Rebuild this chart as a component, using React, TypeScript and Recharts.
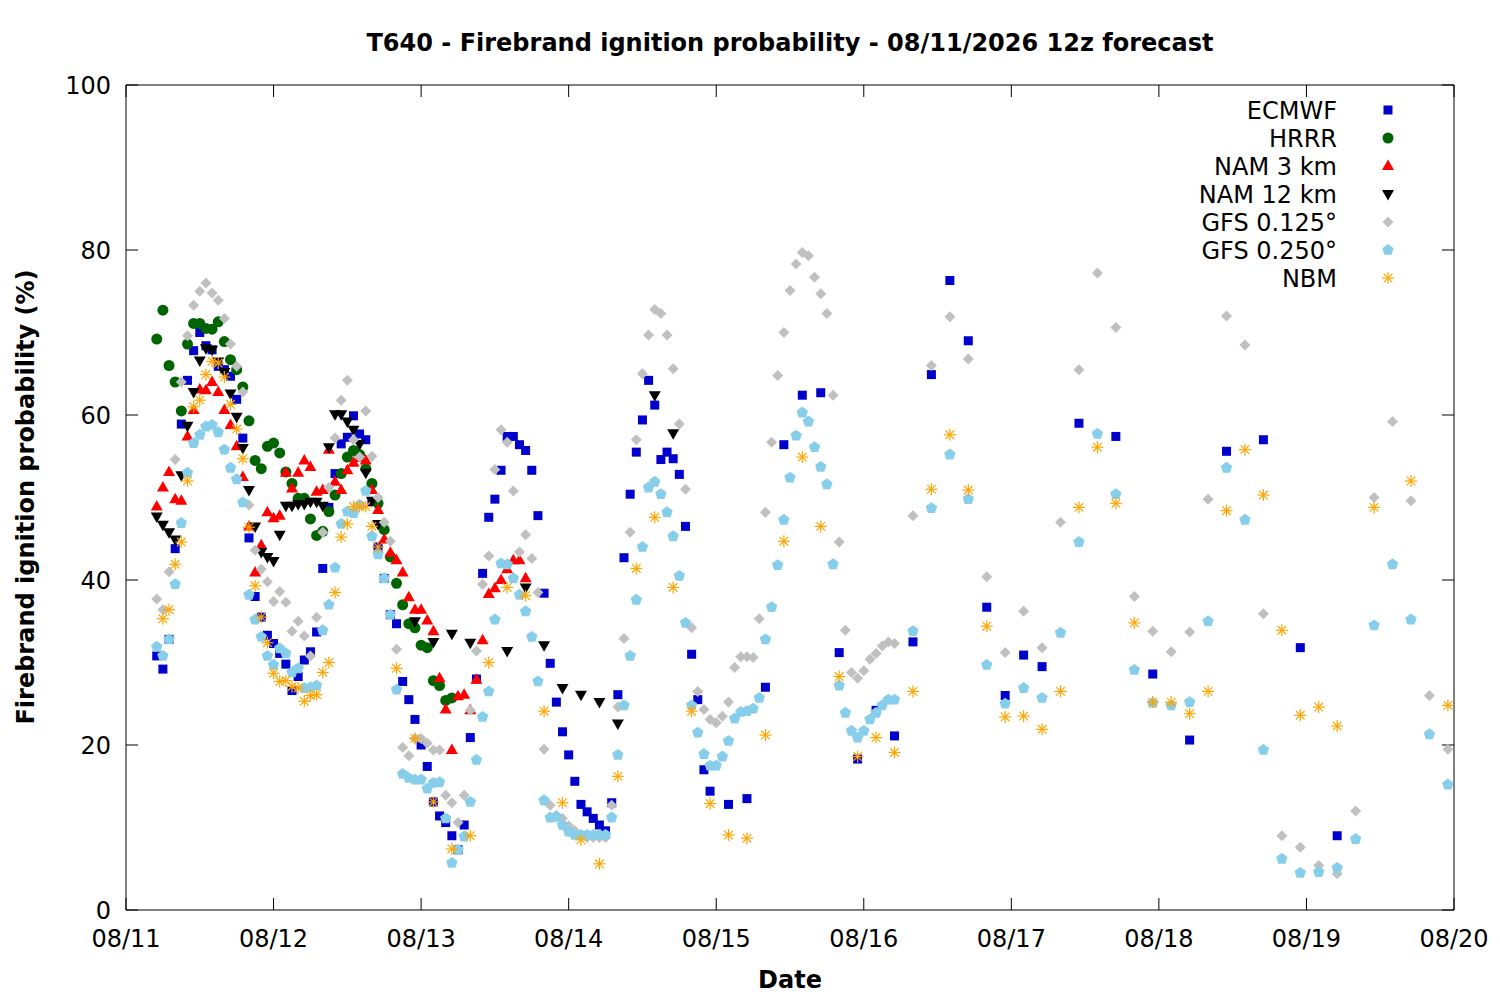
import React from "react";
import { ScatterChart, Scatter, XAxis, YAxis } from "recharts";

// time axis: hours since 08/11 00 local (12z run = hour 5)
const dayTicks = [0, 24, 48, 72, 96, 120, 144, 168, 192, 216];
const dayLabels = ["08/11", "08/12", "08/13", "08/14", "08/15", "08/16", "08/17", "08/18", "08/19", "08/20"];
const yTicks = [0, 20, 40, 60, 80, 100];

type Seg = { start: number; step: number; values: number[] };

// ECMWF: hourly h5-h95, 3-hourly h98-h149, 6-hourly h155-h197
const ecmwfHourly = [
  30.8, 29.2, 32.8, 43.8, 58.9, 64.2, 67.8, 70.0, 68.4, 67.9,
  65.9, 65.5, 64.7, 61.9, 57.2, 45.1, 38.0, 35.5, 33.3, 32.3,
  31.1, 29.8, 26.6, 28.3, 30.3, 31.3, 33.7, 41.4, 48.8, 52.9,
  56.5, 57.3, 59.9, 57.7, 57.0, 49.5, 44.0, 40.2, 35.8, 34.7,
  27.7, 25.5, 23.1, 20.0, 17.4, 13.1, 11.4, 10.6, 9.0, 7.3,
  10.3, 20.9, 28.0, 40.8, 47.6, 49.8, 53.3, 57.4, 57.4, 56.4,
  55.7, 53.3, 47.8, 38.4, 29.9, 25.2, 21.6, 18.8, 15.6, 12.8,
  11.9, 11.1, 10.3, 9.6, 13.0, 26.1, 42.7, 50.4, 55.5, 59.4,
  64.2, 61.2, 54.6, 55.5, 54.7, 52.8, 46.5, 31.0, 25.5, 17.0, 14.4,
];
const ecmwf3h = [12.8, 13.5, 27.0, 56.4, 62.4, 62.7, 31.2, 18.3, 24.2, 21.1, 32.5, 64.9, 76.3, 69.0, 36.7, 26.0, 30.9, 29.5];
const ecmwf6h = [59.0, 57.4, 28.6, 20.6, 55.6, 57.0, 31.8, 9.0];

// HRRR: hourly h5-h53
const hrrrHourly = [
  69.2, 72.7, 66.0, 64.0, 60.5, 68.6, 71.1, 71.1, 70.5, 70.4,
  71.3, 68.9, 66.7, 65.5, 63.4, 59.3, 54.5, 53.5, 56.2, 56.6,
  55.4, 53.1, 51.7, 49.9, 49.9, 47.4, 45.4, 45.9, 48.3, 50.3,
  52.9, 54.9, 55.7, 55.2, 53.5, 51.7, 49.3, 46.1, 42.8, 39.6,
  37.0, 34.7, 34.2, 32.1, 31.8, 27.8, 27.2, 25.4, 25.7,
];

// NAM 3 km: hourly h5-h65
const nam3Hourly = [
  48.9, 51.2, 53.1, 49.8, 49.6, 57.4, 60.6, 63.1, 63.0, 64.0,
  62.8, 60.6, 58.8, 56.2, 52.5, 46.5, 40.9, 44.2, 48.2, 47.5,
  47.8, 53.0, 51.1, 53.0, 54.5, 53.7, 50.7, 50.9, 55.8, 51.9,
  50.9, 53.3, 54.2, 54.8, 54.5, 50.9, 48.5, 44.9, 43.3, 42.4,
  40.9, 37.9, 36.4, 36.4, 35.1, 33.8, 28.1, 24.3, 19.4, 25.9,
  26.1, 24.2, 27.9, 32.7, 38.3, 39.0, 40.0, 41.3, 42.4, 42.4, 40.2,
];

// NAM 12 km: hourly h5-h41, then 3-hourly runs h47-h56, h62-h80, h86-h89
const nam12Hourly = [
  47.7, 46.7, 45.8, 44.9, 52.7, 58.7, 62.8, 66.6, 68.1, 67.9,
  66.5, 65.2, 62.6, 59.8, 56.0, 50.9, 46.5, 43.4, 42.8, 42.3,
  45.5, 49.0, 49.0, 49.2, 49.2, 49.5, 49.5, 49.0, 56.1, 60.1,
  60.1, 59.2, 58.2, 56.5, 53.0, 49.6, 46.8,
];
const nam12_3hA = [35.0, 32.5, 33.5, 32.4];
const nam12_3hB = [31.4, 39.1, 32.1, 26.9, 26.1, 25.2, 22.6];
const nam12_3hC = [62.4, 57.8];

// GFS 0.125: hourly h5-h125, 3-hourly h128-h215
const gfs125Hourly = [
  37.7, 36.4, 41.0, 54.6, 64.0, 69.6, 73.3, 75.0, 76.0, 74.8,
  73.9, 71.7, 68.6, 65.9, 62.8, 49.1, 43.6, 41.3, 39.8, 37.4,
  38.6, 37.3, 33.8, 35.0, 33.2, 30.8, 35.5, 45.8, 51.2, 57.2,
  61.8, 64.2, 57.0, 54.9, 60.5, 55.0, 50.0, 47.0, 44.7, 31.6,
  19.7, 18.7, 20.8, 20.8, 20.2, 19.4, 19.4, 13.9, 13.0, 10.6,
  13.9, 24.2, 31.4, 39.5, 42.9, 53.4, 58.2, 56.7, 50.8, 43.4,
  45.5, 42.6, 38.5, 19.5, 12.7, 11.5, 11.1, 10.2, 9.6, 9.0,
  8.8, 8.8, 8.8, 8.8, 12.7, 24.6, 32.9, 45.8, 57.0, 65.0,
  69.7, 72.8, 72.3, 69.7, 65.6, 58.9, 51.0, 34.2, 26.5, 24.3,
  23.1, 22.7, 23.5, 25.2, 29.4, 30.7, 30.7, 30.6, 35.3, 48.2,
  56.7, 64.8, 70.0, 75.1, 78.3, 79.7, 79.3, 76.7, 74.7, 72.3,
  62.4, 44.6, 33.9, 28.8, 28.1, 29.0, 30.4, 31.1, 32.0, 32.5, 32.3,
];
const gfs125_3h = [
  47.8, 66.0, 71.9, 66.8, 40.4, 31.2, 36.2, 31.8, 47.0, 65.5,
  77.2, 70.6, 38.0, 33.8, 31.3, 33.7, 49.8, 72.0, 68.5, 35.9,
  9.0, 7.6, 5.4, 4.4, 12.0, 50.0, 59.2, 49.6, 26.0, 19.5,
];

// GFS 0.250: hourly h5-h125, 3-hourly h128-h215
const gfs250Hourly = [
  31.9, 30.8, 32.8, 39.5, 46.9, 53.0, 56.6, 57.6, 58.6, 58.8,
  57.9, 55.8, 53.6, 52.2, 49.4, 38.2, 35.2, 33.1, 30.8, 29.7,
  31.7, 31.1, 28.8, 29.3, 26.9, 27.0, 27.2, 33.9, 37.0, 41.5,
  46.8, 48.3, 48.1, 49.1, 50.8, 45.3, 43.1, 40.2, 35.8, 26.7,
  16.5, 16.0, 15.8, 15.8, 14.7, 15.4, 15.5, 11.1, 5.7, 7.3,
  8.9, 13.1, 18.2, 23.4, 26.5, 35.2, 42.0, 41.9, 40.2, 38.2,
  36.2, 33.1, 27.7, 13.3, 11.2, 11.3, 10.3, 9.5, 9.1, 9.1,
  9.1, 9.1, 9.1, 9.1, 11.2, 18.8, 24.8, 30.8, 37.6, 44.0,
  51.2, 51.9, 50.4, 48.2, 45.3, 40.5, 34.8, 24.8, 21.5, 18.9,
  17.5, 17.5, 18.6, 20.5, 23.2, 24.0, 24.1, 24.4, 25.7, 32.8,
  36.7, 41.8, 47.3, 52.4, 57.5, 60.3, 59.2, 56.1, 53.7, 51.6,
  41.9, 27.2, 23.9, 21.7, 20.9, 21.7, 23.1, 23.9, 24.8, 25.5, 25.5,
];
const gfs250_3h = [
  33.8, 48.7, 55.2, 49.8, 29.7, 25.0, 26.9, 25.7, 33.6, 44.6,
  57.7, 50.4, 29.1, 25.1, 24.8, 25.2, 35.0, 53.6, 47.3, 19.4,
  6.2, 4.5, 4.6, 5.1, 8.6, 34.5, 41.9, 35.2, 21.3, 15.2,
];

// NBM: hourly h6-h41, 3-hourly h44-h197, 6-hourly h203-h215
const nbmHourly = [
  35.3, 36.4, 41.9, 44.6, 52.0, 61.0, 61.8, 64.9, 66.5, 66.3,
  64.6, 61.3, 58.3, 54.7, 46.4, 39.3, 35.5, 32.4, 28.7, 27.7,
  27.8, 27.1, 26.9, 25.3, 26.0, 26.1, 28.8, 30.0, 38.5, 45.2,
  46.8, 48.9, 48.9, 48.9, 46.5, 44.0,
];
const nbm3h = [
  29.3, 20.8, 13.1, 7.4, 9.0, 30.0, 39.1, 38.1, 24.1, 13.0,
  8.5, 5.6, 16.2, 41.4, 47.6, 39.1, 24.1, 12.9, 9.1, 8.7,
  21.2, 44.7, 54.9, 46.5, 28.3, 18.6, 20.9, 19.1, 26.5, 51.0,
  57.6, 50.9, 34.4, 23.4, 23.5, 21.9, 26.5, 48.8, 56.1, 49.3,
  34.8, 25.2, 25.2, 23.8, 26.5, 48.4, 55.8, 50.3, 33.9, 23.6,
  24.6, 22.3,
];
const nbm6h = [48.8, 52.0, 24.8];

function toPoints(segs: Seg[]) {
  return segs.flatMap((s) => s.values.map((v, i) => ({ h: s.start + i * s.step, v })));
}

const ecmwfData = toPoints([
  { start: 5, step: 1, values: ecmwfHourly },
  { start: 98, step: 3, values: ecmwf3h },
  { start: 155, step: 6, values: ecmwf6h },
]);
const hrrrData = toPoints([{ start: 5, step: 1, values: hrrrHourly }]);
const nam3Data = toPoints([{ start: 5, step: 1, values: nam3Hourly }]);
const nam12Data = toPoints([
  { start: 5, step: 1, values: nam12Hourly },
  { start: 47, step: 3, values: nam12_3hA },
  { start: 62, step: 3, values: nam12_3hB },
  { start: 86, step: 3, values: nam12_3hC },
]);
const gfs125Data = toPoints([
  { start: 5, step: 1, values: gfs125Hourly },
  { start: 128, step: 3, values: gfs125_3h },
]);
const gfs250Data = toPoints([
  { start: 5, step: 1, values: gfs250Hourly },
  { start: 128, step: 3, values: gfs250_3h },
]);
const nbmData = toPoints([
  { start: 6, step: 1, values: nbmHourly },
  { start: 44, step: 3, values: nbm3h },
  { start: 203, step: 6, values: nbm6h },
]);

const FONT = "DejaVu Sans";
const FS = 24;
const C = {
  ecmwf: "#0000cd",
  hrrr: "#006400",
  nam3: "#ff0000",
  nam12: "#000000",
  gfs125: "#c0c0c0",
  gfs250: "#87ceeb",
  nbm: "#ffa500",
};

type Mk = (cx: number, cy: number, key?: string) => React.ReactElement;

const square: Mk = (cx, cy, key) => <rect key={key} x={cx - 4.5} y={cy - 4.5} width={9} height={9} fill={C.ecmwf} />;
const circle: Mk = (cx, cy, key) => <circle key={key} cx={cx} cy={cy} r={5.5} fill={C.hrrr} />;
const triUp: Mk = (cx, cy, key) => (
  <polygon key={key} points={`${cx},${cy - 6.5} ${cx - 6},${cy + 4} ${cx + 6},${cy + 4}`} fill={C.nam3} />
);
const triDown: Mk = (cx, cy, key) => (
  <polygon key={key} points={`${cx},${cy + 6.5} ${cx - 6},${cy - 4} ${cx + 6},${cy - 4}`} fill={C.nam12} />
);
const diamond: Mk = (cx, cy, key) => (
  <polygon key={key} points={`${cx},${cy - 5.5} ${cx + 5.5},${cy} ${cx},${cy + 5.5} ${cx - 5.5},${cy}`} fill={C.gfs125} />
);
const pentagon: Mk = (cx, cy, key) => {
  const pts = [0, 1, 2, 3, 4]
    .map((k) => {
      const a = ((-90 + 72 * k) * Math.PI) / 180;
      return `${cx + 6 * Math.cos(a)},${cy + 6 * Math.sin(a)}`;
    })
    .join(" ");
  return <polygon key={key} points={pts} fill={C.gfs250} />;
};
const star: Mk = (cx, cy, key) => (
  <g key={key} stroke={C.nbm} strokeWidth={1.2}>
    <line x1={cx - 6} y1={cy} x2={cx + 6} y2={cy} />
    <line x1={cx} y1={cy - 6} x2={cx} y2={cy + 6} />
    <line x1={cx - 4.3} y1={cy - 4.3} x2={cx + 4.3} y2={cy + 4.3} />
    <line x1={cx - 4.3} y1={cy + 4.3} x2={cx + 4.3} y2={cy - 4.3} />
  </g>
);

const shapeOf = (mk: Mk) => (p: any) => mk(p.cx, p.cy);

const legendRows: { name: string; mk: Mk }[] = [
  { name: "ECMWF", mk: square },
  { name: "HRRR", mk: circle },
  { name: "NAM 3 km", mk: triUp },
  { name: "NAM 12 km", mk: triDown },
  { name: "GFS 0.125°", mk: diamond },
  { name: "GFS 0.250°", mk: pentagon },
  { name: "NBM", mk: star },
];

const tickStyle = { fontSize: FS, fill: "#000", fontFamily: FONT };
const lineStyle = { stroke: "#000", strokeWidth: 1 };

export default function App() {
  return (
    <div style={{ position: "absolute", left: 0, top: 0, width: 1500, height: 1000, background: "#fff" }}>
      <ScatterChart width={1500} height={1000} margin={{ top: 84, right: 45, bottom: 60, left: 96 }}>
        <XAxis
          xAxisId="b"
          type="number"
          dataKey="h"
          domain={[0, 216]}
          ticks={dayTicks}
          interval={0}
          tickFormatter={(h: number) => dayLabels[dayTicks.indexOf(h)]}
          height={30}
          tickSize={-12}
          tickMargin={32}
          tick={tickStyle}
          axisLine={lineStyle}
          tickLine={lineStyle}
          allowDataOverflow
        />
        <XAxis
          xAxisId="t"
          orientation="top"
          type="number"
          dataKey="h"
          domain={[0, 216]}
          ticks={dayTicks}
          interval={0}
          tickFormatter={() => ""}
          height={1}
          tickSize={-12}
          axisLine={lineStyle}
          tickLine={lineStyle}
          allowDataOverflow
        />
        <YAxis
          yAxisId="l"
          type="number"
          dataKey="v"
          domain={[0, 100]}
          ticks={yTicks}
          interval={0}
          width={30}
          tickSize={-12}
          tickMargin={27}
          tick={tickStyle}
          axisLine={lineStyle}
          tickLine={lineStyle}
          allowDataOverflow
        />
        <YAxis
          yAxisId="r"
          orientation="right"
          type="number"
          dataKey="v"
          domain={[0, 100]}
          ticks={yTicks}
          interval={0}
          tickFormatter={() => ""}
          width={1}
          tickSize={-12}
          axisLine={lineStyle}
          tickLine={lineStyle}
          allowDataOverflow
        />
        <Scatter name="ECMWF" data={ecmwfData} xAxisId="b" yAxisId="l" shape={shapeOf(square)} isAnimationActive={false} />
        <Scatter name="HRRR" data={hrrrData} xAxisId="b" yAxisId="l" shape={shapeOf(circle)} isAnimationActive={false} />
        <Scatter name="NAM 3 km" data={nam3Data} xAxisId="b" yAxisId="l" shape={shapeOf(triUp)} isAnimationActive={false} />
        <Scatter name="NAM 12 km" data={nam12Data} xAxisId="b" yAxisId="l" shape={shapeOf(triDown)} isAnimationActive={false} />
        <Scatter name="GFS 0.125°" data={gfs125Data} xAxisId="b" yAxisId="l" shape={shapeOf(diamond)} isAnimationActive={false} />
        <Scatter name="GFS 0.250°" data={gfs250Data} xAxisId="b" yAxisId="l" shape={shapeOf(pentagon)} isAnimationActive={false} />
        <Scatter name="NBM" data={nbmData} xAxisId="b" yAxisId="l" shape={shapeOf(star)} isAnimationActive={false} />
      </ScatterChart>

      {/* title, axis titles and key */}
      <svg
        width={1500}
        height={1000}
        style={{ position: "absolute", left: 0, top: 0, pointerEvents: "none" }}
        fontFamily={FONT}
      >
        <text x={790} y={51} textAnchor="middle" fontSize={FS} fontWeight="bold">
          T640 - Firebrand ignition probability - 08/11/2026 12z forecast
        </text>
        <text x={790} y={988} textAnchor="middle" fontSize={FS} fontWeight="bold">
          Date
        </text>
        <text x={34} y={497} textAnchor="middle" fontSize={FS} fontWeight="bold" transform="rotate(-90 34 497)">
          Firebrand ignition probability (%)
        </text>
        {legendRows.map((r, i) => (
          <g key={r.name}>
            <text x={1337} y={118.6 + i * 28} textAnchor="end" fontSize={FS}>
              {r.name}
            </text>
            {r.mk(1388, 110 + i * 28)}
          </g>
        ))}
      </svg>
    </div>
  );
}
